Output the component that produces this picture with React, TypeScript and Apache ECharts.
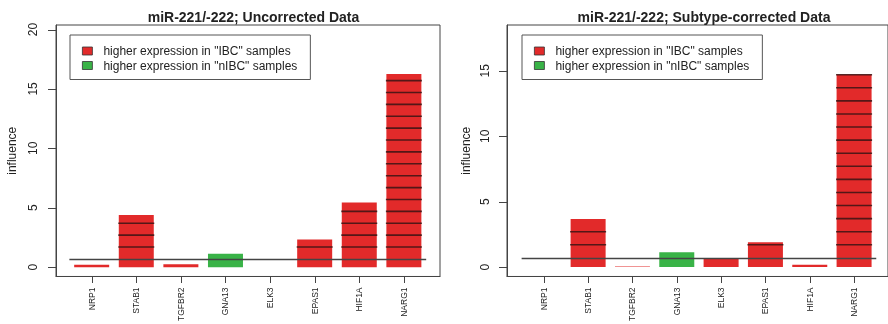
import React, { useEffect, useRef } from "react";
import * as echarts from "echarts";

const GENES = ["NRP1", "STAB1", "TGFBR2", "GNA13", "ELK3", "EPAS1", "HIF1A", "NARG1"];
const GENE_INDEX = [0, 1, 2, 3, 4, 5, 6, 7];

// Uncorrected data (left panel)
const LEFT_IBC = [0.2, 4.39, 0.25, null, null, 2.33, 5.44, 16.25];
const LEFT_NIBC = [null, null, null, 1.14, null, null, null, null];
// Subtype-corrected data (right panel)
const RIGHT_IBC = [null, 3.67, 0.05, null, 0.66, 1.9, 0.18, 14.72];
const RIGHT_NIBC = [null, null, null, 1.14, null, null, null, null];

const LEFT_TICKS = [0, 5, 10, 15, 20];
const RIGHT_TICKS = [0, 5, 10, 15];
const THRESHOLD = 0.7;

const TITLES = ["miR-221/-222; Uncorrected Data", "miR-221/-222; Subtype-corrected Data"];
const IBC_NAME = 'higher expression in "IBC" samples';
const NIBC_NAME = 'higher expression in "nIBC" samples';

const RED = "#e22a2a";
const GREEN = "#39b347";
const FONT = "Liberation Sans, Arial, sans-serif";
const AXIS_COLOR = "#444";

const X_RANGES = [[-0.8, 7.81], [-0.83, 7.765]];
const Y_RANGES = [[-0.78, 20.38], [-0.72, 18.5]];

export default function App() {
  const ref = useRef<HTMLDivElement>(null);
  useEffect(() => {
    if (!ref.current) return;
    const chart = echarts.init(ref.current, null, { renderer: "svg" });

    const pairs = (arr: (number | null)[]) =>
      arr.map((v, i) => (v === null ? [GENE_INDEX[i], null] : [GENE_INDEX[i], v]));
    const all = (a: (number | null)[], b: (number | null)[]) =>
      a.map((v, i) => [GENE_INDEX[i], v !== null ? v : b[i] !== null ? b[i] : 0]);

    const stripeSeries = (idx: number, data: any[]) => ({
      type: "custom",
      xAxisIndex: idx,
      yAxisIndex: idx,
      silent: true,
      z: 5,
      data,
      renderItem: (params: any, api: any) => {
        const x = api.value(0);
        const v = api.value(1);
        const children: any[] = [];
        for (let y = THRESHOLD + 1; y < v - 0.02; y += 1) {
          const p1 = api.coord([x, y]);
          children.push({
            type: "line",
            shape: { x1: p1[0] - 18, y1: p1[1], x2: p1[0] + 18, y2: p1[1] },
            style: { stroke: "#3a1414", lineWidth: 1.6, opacity: 0.85 },
          });
        }
        return { type: "group", children };
      },
    });

    const barSeries = (idx: number, name: string, color: string, data: any[], withLine: boolean) => ({
      type: "bar",
      name,
      xAxisIndex: idx,
      yAxisIndex: idx,
      barWidth: 35,
      barGap: "-100%",
      itemStyle: { color },
      data,
      markLine: withLine
        ? {
            silent: true,
            symbol: "none",
            label: { show: false },
            lineStyle: { color: "#444", width: 1.3, type: "solid" },
            data: [[{ coord: [GENE_INDEX[0] - 0.5, THRESHOLD] }, { coord: [GENE_INDEX[7] + 0.5, THRESHOLD] }]],
          }
        : undefined,
    });

    const xAxis = (idx: number) => ({
      type: "value",
      gridIndex: idx,
      min: X_RANGES[idx][0],
      max: X_RANGES[idx][1],
      axisLine: { show: true, onZero: false, lineStyle: { color: AXIS_COLOR, width: 1 } },
      splitLine: { show: false },
      axisTick: { show: false },
      axisLabel: {
        customValues: GENE_INDEX,
        rotate: 90,
        fontSize: 8.5,
        margin: 11,
        color: "#222",
        fontFamily: FONT,
        formatter: (v: number) => GENES[v],
      },
    });

    const yAxis = (idx: number, ticks: number[], margin: number, nameGap: number) => ({
      type: "value",
      gridIndex: idx,
      min: Y_RANGES[idx][0],
      max: Y_RANGES[idx][1],
      name: "influence",
      nameLocation: "middle",
      nameGap,
      nameTextStyle: { fontSize: 12, color: "#222", fontFamily: FONT },
      axisLine: { show: true, onZero: false, lineStyle: { color: AXIS_COLOR, width: 1 } },
      splitLine: { show: false },
      axisTick: { show: false },
      axisLabel: { customValues: ticks, rotate: 90, fontSize: 12, margin, color: "#222", fontFamily: FONT },
    });

    const legend = (left: number) => ({
      left,
      top: 35,
      orient: "vertical",
      borderColor: "#555",
      borderWidth: 1,
      padding: [10, 13, 8, 12],
      itemGap: 2.5,
      itemWidth: 10,
      itemHeight: 8,
      icon: "rect",
      textStyle: { fontSize: 12, lineHeight: 12, color: "#222", fontFamily: FONT, padding: [0, 0, 0, 6] },
      data: [
        { name: IBC_NAME, itemStyle: { color: RED, borderColor: "#333", borderWidth: 0.8 } },
        { name: NIBC_NAME, itemStyle: { color: GREEN, borderColor: "#333", borderWidth: 0.8 } },
      ],
      selectedMode: false,
    });

    chart.setOption({
      animation: false,
      title: [
        {
          text: TITLES[0],
          left: 248.5,
          top: 5,
          textAlign: "center",
          textStyle: { fontSize: 14, fontWeight: "bold", color: "#222", fontFamily: FONT },
        },
        {
          text: TITLES[1],
          left: 699,
          top: 5,
          textAlign: "center",
          textStyle: { fontSize: 14, fontWeight: "bold", color: "#222", fontFamily: FONT },
        },
      ],
      legend: [legend(70), legend(522)],
      grid: [
        { left: 56, top: 25, width: 384, height: 254, show: true, borderColor: AXIS_COLOR, borderWidth: 1 },
        { left: 507, top: 25, width: 383, height: 254, show: true, borderColor: AXIS_COLOR, borderWidth: 1 },
      ],
      xAxis: [xAxis(0), xAxis(1)],
      yAxis: [yAxis(0, LEFT_TICKS, 17, 38), yAxis(1, RIGHT_TICKS, 16, 35)],
      series: [
        barSeries(0, IBC_NAME, RED, pairs(LEFT_IBC), true),
        barSeries(0, NIBC_NAME, GREEN, pairs(LEFT_NIBC), false),
        stripeSeries(0, all(LEFT_IBC, LEFT_NIBC)),
        barSeries(1, IBC_NAME, RED, pairs(RIGHT_IBC), true),
        barSeries(1, NIBC_NAME, GREEN, pairs(RIGHT_NIBC), false),
        stripeSeries(1, all(RIGHT_IBC, RIGHT_NIBC)),
      ],
    });

    // tick marks placed through the axes' own scales (crisp half-pixel lines)
    const tickGraphics: any[] = [];
    [LEFT_TICKS, RIGHT_TICKS].forEach((ticks, idx) => {
      const finder = { xAxisIndex: idx, yAxisIndex: idx };
      ticks.forEach((t) => {
        const p = chart.convertToPixel(finder, [X_RANGES[idx][0], t]) as number[];
        const y = Math.round(p[1]) + 0.5;
        const x = Math.round(p[0]);
        tickGraphics.push({
          type: "line",
          z: 100,
          silent: true,
          shape: { x1: x - 8, y1: y, x2: x, y2: y },
          style: { stroke: AXIS_COLOR, lineWidth: 1 },
        });
      });
      GENE_INDEX.forEach((g) => {
        const p = chart.convertToPixel(finder, [g, Y_RANGES[idx][0]]) as number[];
        const x = Math.round(p[0]) + 0.5;
        const y = Math.round(p[1]);
        tickGraphics.push({
          type: "line",
          z: 100,
          silent: true,
          shape: { x1: x, y1: y, x2: x, y2: y + 7 },
          style: { stroke: AXIS_COLOR, lineWidth: 1 },
        });
      });
    });
    chart.setOption({ graphic: tickGraphics });

    return () => chart.dispose();
  }, []);
  return <div ref={ref} style={{ position: "fixed", left: 0, top: 0, width: 888, height: 324 }} />;
}
